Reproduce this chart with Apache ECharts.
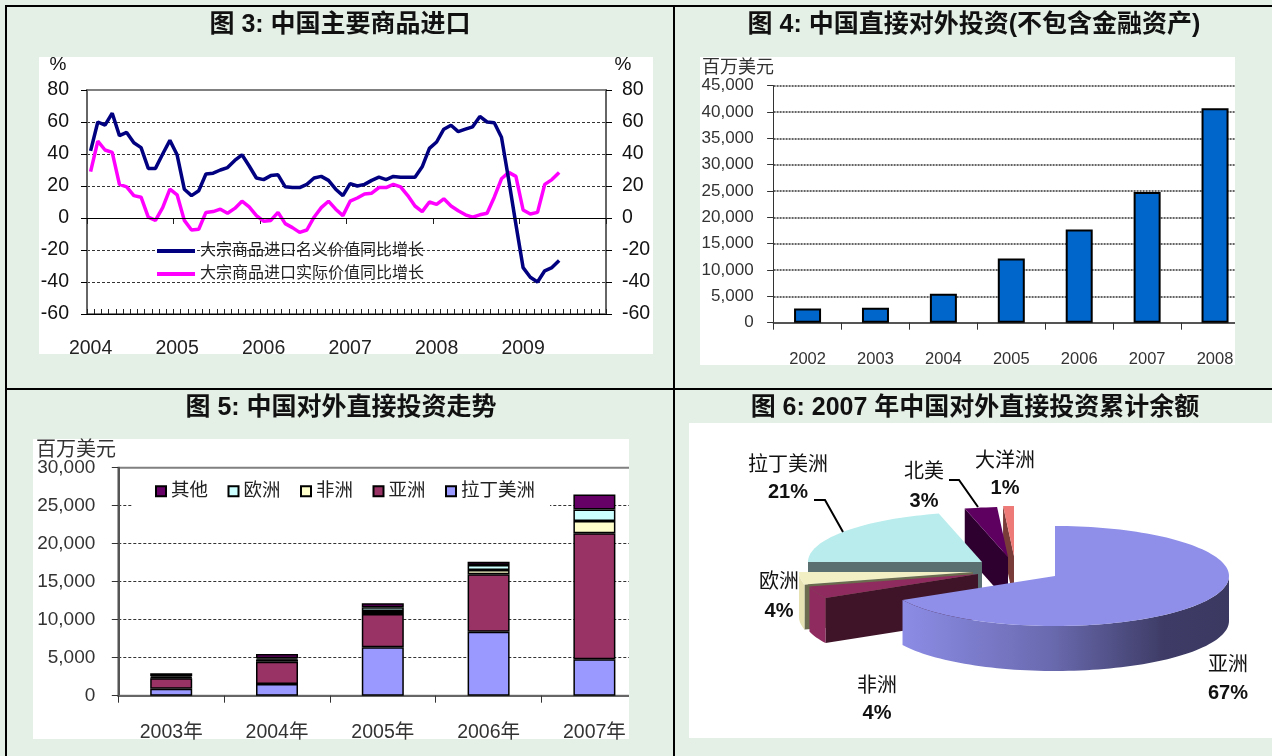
<!DOCTYPE html>
<html>
<head>
<meta charset="utf-8">
<title>中国商品进口与对外直接投资</title>
<script src="https://cdn.jsdelivr.net/npm/echarts@6/dist/echarts.min.js"></script>
<style>
  html, body { margin: 0; padding: 0; background: #e4efe6; }
  #chart { width: 1272px; height: 756px; }
</style>
</head>
<body>
<div id="chart"></div>
<script>
// 图 3 数据：2004-01 起的月度同比
const nominalName = '大宗商品进口名义价值同比增长'
const realName = '大宗商品进口实际价值同比增长'
const nominalGrowth = [
  42, 60, 58, 65.5, 51.5, 53.5, 47, 44, 31, 31, 40, 48.5,
  39.5, 18, 14, 17, 27.5, 28, 30, 31.5, 36, 39.5, 32.5, 25,
  24, 26.5, 27, 19.5, 19, 19, 21, 25, 26, 23.5, 18, 14,
  21.5, 20, 21, 23.5, 25.5, 24, 26, 25.5, 25.5, 25.5, 32, 43.5,
  47.5, 55.5, 58, 54, 55.5, 57, 63.5, 60, 59.5, 50.5, 24, -4,
  -31, -37, -40, -33, -31, -26.5
]
const realGrowth = [
  29, 48, 42.5, 41, 21, 19.5, 14, 13, 0.5, -1.5, 6.5, 18,
  14.5, -1.5, -7.5, -7, 3.5, 4, 5.5, 3, 6, 10.5, 7, 1.5,
  -2, -1.5, 3.5, -3.5, -6, -9, -7.5, 0.5, 6.5, 10.5, 5.5, 1.5,
  10.5, 12.5, 15, 15.5, 19, 19, 21, 19.5, 14, 7.5, 4, 10,
  8.5, 12, 7.5, 4.5, 2, 0.5, 2, 3, 13, 24.5, 28.5, 26,
  5, 2.5, 3.5, 21, 24, 28.5
]
const importYears = ['2004', '2005', '2006', '2007', '2008', '2009']
const months = ['01', '02', '03', '04', '05', '06', '07', '08', '09', '10', '11', '12']
const importMonths = importYears.flatMap(y => months.map(m => y + '-' + m))

// 图 4 数据
const odiYears = ['2002', '2003', '2004', '2005', '2006', '2007', '2008']
const odiValues = [2700, 2850, 5500, 12200, 17700, 24800, 40700]

// 图 5 数据
const regionYears = ['2003年', '2004年', '2005年', '2006年', '2007年']
const latinAmerica = [900, 1535, 6360, 8420, 4780]
const asia = [1400, 2935, 4385, 7545, 16580]
const africa = [100, 300, 400, 565, 1620]
const europe = [150, 150, 500, 660, 1535]
const others = [400, 560, 505, 440, 1975]
const regionLegend = ['其他', '欧洲', '非洲', '亚洲', '拉丁美洲']

// 图 6 数据
const pieNames = ['亚洲', '非洲', '欧洲', '拉丁美洲', '北美', '大洋洲']
const pieValues = [67, 4, 4, 21, 3, 1]

// 样式和版面
const sansFont = '"Liberation Sans", "Noto Sans CJK SC", sans-serif'
const panelGreen = '#e4efe6'
const pieRx = 174
const pieRy = 50
const pieDepth = 45
const pieTips = [[1055, 576], [978, 574], [973, 572], [982, 562], [1008, 557], [1014, 556]]
const pieColors = [
  { top: '#8f8fe9', cut: '#3f3c66' },
  { top: '#8f2b5e', wall: '#8f2b5e', cut: '#3f1428' },
  { top: '#f3efc4', wall: '#e6e2b4', cut: '#6b6b50' },
  { top: '#b9ecec', wall: '#5a7070', cut: '#5a7070' },
  { top: '#5e0060', wall: '#2e0030', cut: '#2e0030' },
  { top: '#ee7a78', wall: '#7a3c38', cut: '#7a3c38' }
]
const pieLabelPos = [[1228, 665, 693], [877, 686, 713], [779, 582, 611], [788, 465, 492], [924, 472, 501], [1005, 461, 488]]
const pieLeaders = [
  [[814, 500], [825, 500], [843, 532]],
  [[949, 480], [959, 480], [978, 507]]
]

const asiaWall = new echarts.graphic.LinearGradient(0, 0, 1, 0, [
  { offset: 0, color: '#8c8ce6' },
  { offset: 0.45, color: '#6a6ab0' },
  { offset: 0.8, color: '#3e3c66' },
  { offset: 1, color: '#3b3962' }
])

const pieTotal = pieValues.reduce((a, b) => a + b, 0)
const pieStarts = pieValues.map((v, i) => pieValues.slice(0, i).reduce((a, b) => a + b, 0) / pieTotal * 360)
const pieEnds = pieValues.map((v, i) => pieStarts[i] + v / pieTotal * 360)

const piePoint = (tip, deg) => {
  const rad = deg * Math.PI / 180
  return [tip[0] + Math.sin(rad) * pieRx, tip[1] - Math.cos(rad) * pieRy]
}

const arcPoints = (tip, from, to) => {
  const pts = []
  const steps = Math.max(2, Math.ceil((to - from) / 2))
  for (let k = 0; k <= steps; k++) pts.push(piePoint(tip, from + (to - from) * k / steps))
  return pts
}

const drop = pts => pts.map(p => [p[0], p[1] + pieDepth])

const renderPieSlice = (params) => {
  // 从后往前画，亚洲在最前
  const i = pieValues.length - 1 - params.dataIndex
  const tip = pieTips[i]
  const start = pieStarts[i]
  const end = pieEnds[i]
  const colors = pieColors[i]
  const children = []

  // 切面：只画朝前的那一面
  if (Math.sin(start * Math.PI / 180) < -0.001) {
    const edge = [tip, piePoint(tip, start)]
    children.push({
      type: 'polygon',
      shape: { points: edge.concat(drop(edge).reverse()) },
      style: { fill: colors.cut }
    })
  }
  // 外壁：只有 90 到 270 度可见
  const wallFrom = Math.max(start, 90)
  const wallTo = Math.min(end, 270)
  if (wallTo > wallFrom) {
    const arc = arcPoints(tip, wallFrom, wallTo)
    children.push({
      type: 'polygon',
      shape: { points: arc.concat(drop(arc).reverse()) },
      style: { fill: i === 0 ? asiaWall : colors.wall }
    })
  }
  children.push({
    type: 'polygon',
    shape: { points: [tip].concat(arcPoints(tip, start, end)) },
    style: { fill: colors.top }
  })

  const pos = pieLabelPos[i]
  children.push({
    type: 'text', z2: 20,
    style: { x: pos[0], y: pos[1], text: pieNames[i], align: 'center', verticalAlign: 'middle', fontSize: 20, fontFamily: sansFont, fill: '#111' }
  })
  children.push({
    type: 'text', z2: 20,
    style: { x: pos[0], y: pos[2], text: pieValues[i] + '%', align: 'center', verticalAlign: 'middle', fontSize: 20, fontWeight: 'bold', fontFamily: sansFont, fill: '#111' }
  })
  return { type: 'group', children }
}

const rect = (x, y, width, height, fill, z) => ({ type: 'rect', shape: { x, y, width, height }, style: { fill }, z, silent: true })
const label = (x, y, text, fontSize, fontWeight, fill) => ({
  type: 'text', z: 50, silent: true,
  style: { x, y, text, fontSize, fontWeight, fill, align: 'center', verticalAlign: 'middle', fontFamily: sansFont }
})
const leader = pts => ({ type: 'polyline', z: 50, silent: true, shape: { points: pts }, style: { stroke: '#000', lineWidth: 2, fill: null } })

const graphics = [
  // 白底
  rect(39, 57, 614, 297, '#fff', -10),
  rect(700, 57, 535, 308, '#fff', -10),
  rect(33, 439, 596, 300, '#fff', -10),
  rect(689, 423, 583, 315, '#fff', -10),
  // 框线
  rect(5, 5, 1267, 2, '#000', 60),
  rect(5, 5, 2, 751, '#000', 60),
  rect(673, 5, 2, 751, '#000', 60),
  rect(5, 388, 1267, 2, '#000', 60),
  // 图 4、图 5 最后一格被裁掉，盖住伸出白底的部分
  rect(1235, 70, 16, 270, panelGreen, 40),
  rect(629, 460, 20, 245, panelGreen, 40),
  // 标题
  label(340, 25, '图 3: 中国主要商品进口', 25, 'bold', '#111'),
  label(974, 25, '图 4: 中国直接对外投资(不包含金融资产)', 25, 'bold', '#111'),
  label(341, 408, '图 5: 中国对外直接投资走势', 25, 'bold', '#111'),
  label(975, 408, '图 6: 2007 年中国对外直接投资累计余额', 25, 'bold', '#111'),
  // 单位
  label(58, 65, '%', 19, 'normal', '#111'),
  label(623, 65, '%', 19, 'normal', '#111'),
  label(738, 68, '百万美元', 18, 'normal', '#333'),
  label(76, 450, '百万美元', 20, 'normal', '#333'),
  leader(pieLeaders[0]),
  leader(pieLeaders[1])
]

const dashedLine = { show: true, showMinLine: false, showMaxLine: false, lineStyle: { color: '#333', type: [3, 2], width: 1 } }
const regionBar = (name, data, color) => ({
  name, type: 'bar', stack: 'region', xAxisIndex: 3, yAxisIndex: 3, data, barWidth: 42,
  itemStyle: { color, borderColor: '#000', borderWidth: 1.5 }
})

const option = {
  animation: false,
  textStyle: { fontFamily: sansFont },
  graphic: graphics,
  legend: [
    {
      data: [nominalName, realName], orient: 'vertical', left: 157, top: 243, padding: 0,
      icon: 'rect', itemWidth: 38, itemHeight: 4, itemGap: 7, selectedMode: false,
      textStyle: { fontSize: 16, color: '#222' }
    },
    {
      data: regionLegend, left: 133, top: 477, padding: [5, 15, 6, 22],
      icon: 'rect', itemWidth: 10, itemHeight: 10, itemGap: 19.5, selectedMode: false, backgroundColor: '#fff',
      textStyle: { fontSize: 18.5, color: '#222' }
    }
  ],
  grid: [
    { left: 87, top: 90, width: 519, height: 224, show: true, borderColor: '#808080', borderWidth: 2, containLabel: false },
    { left: 773.6, top: 85.7, width: 475.4, height: 237, containLabel: false },
    { left: 118.3, top: 467.7, width: 529, height: 228, show: true, borderColor: '#808080', borderWidth: 2, containLabel: false }
  ],
  xAxis: [
    {
      gridIndex: 0, type: 'category', data: importMonths, position: 'bottom',
      axisLine: { onZero: false, lineStyle: { color: '#000', width: 1 } },
      axisTick: { show: true, inside: true, length: 5, interval: 0, lineStyle: { color: '#222' } },
      axisLabel: { interval: 11, margin: 25, fontSize: 19.5, color: '#222', formatter: v => v.slice(0, 4) }
    },
    {
      // 年度长刻度
      gridIndex: 0, type: 'category', data: importMonths, position: 'bottom',
      axisLine: { show: false },
      axisTick: { show: true, length: 6, interval: 11, lineStyle: { color: '#222' } },
      axisLabel: { show: false }
    },
    {
      gridIndex: 1, type: 'category', data: odiYears,
      axisLine: { lineStyle: { color: '#555', width: 2 } },
      axisTick: { show: true, length: 7, lineStyle: { color: '#333' } },
      axisLabel: { margin: 29, fontSize: 16.5, color: '#333' }
    },
    {
      gridIndex: 2, type: 'category', data: regionYears,
      axisLine: { lineStyle: { color: '#666', width: 2 } },
      axisTick: { show: true, length: 7, lineStyle: { color: '#333' } },
      axisLabel: { margin: 27, fontSize: 19.5, color: '#333' }
    }
  ],
  yAxis: [
    {
      gridIndex: 0, type: 'value', position: 'left', min: -60, max: 80, interval: 20,
      axisLine: { show: true, lineStyle: { color: '#666', width: 2 } },
      axisTick: { show: true, length: 6, lineStyle: { color: '#000' } },
      axisLabel: { margin: 18, fontSize: 19.5, color: '#111' },
      splitLine: dashedLine
    },
    {
      gridIndex: 0, type: 'value', position: 'right', min: -60, max: 80, interval: 20,
      axisLine: { show: true, lineStyle: { color: '#666', width: 2 } },
      axisTick: { show: true, length: 6, lineStyle: { color: '#000' } },
      axisLabel: { margin: 16, fontSize: 19.5, color: '#111', align: 'left' },
      splitLine: { show: false }
    },
    {
      gridIndex: 1, type: 'value', min: 0, max: 45000, interval: 5000,
      axisLine: { show: true, lineStyle: { color: '#333', width: 1 } },
      axisTick: { show: true, length: 6.5, lineStyle: { color: '#333' } },
      axisLabel: { margin: 20, fontSize: 17, color: '#333', formatter: v => v.toLocaleString('en-US') },
      splitLine: { show: true, showMinLine: false, lineStyle: { color: '#333', type: [2, 1], width: 1.5 } }
    },
    {
      gridIndex: 2, type: 'value', min: 0, max: 30000, interval: 5000,
      axisLine: { show: true, lineStyle: { color: '#555', width: 2 } },
      axisTick: { show: true, length: 6.5, lineStyle: { color: '#333' } },
      axisLabel: { margin: 23, fontSize: 19, color: '#333', formatter: v => v.toLocaleString('en-US') },
      splitLine: dashedLine
    }
  ],
  series: [
    {
      name: nominalName, type: 'line', xAxisIndex: 0, yAxisIndex: 0, data: nominalGrowth,
      showSymbol: false, symbol: 'none', z: 4,
      lineStyle: { color: '#000080', width: 3.5 }, itemStyle: { color: '#000080' }
    },
    {
      name: realName, type: 'line', xAxisIndex: 0, yAxisIndex: 0, data: realGrowth,
      showSymbol: false, symbol: 'none', z: 3,
      lineStyle: { color: '#ff00ff', width: 3.5 }, itemStyle: { color: '#ff00ff' },
      markLine: {
        symbol: 'none', silent: true, animation: false, label: { show: false },
        lineStyle: { color: '#000', type: 'solid', width: 1 },
        data: [{ yAxis: 0 }]
      }
    },
    {
      name: 'odi', type: 'bar', xAxisIndex: 2, yAxisIndex: 2, data: odiValues, barWidth: 27,
      itemStyle: { color: '#0066cc', borderColor: '#000', borderWidth: 2 }
    },
    regionBar('拉丁美洲', latinAmerica, '#9999ff'),
    regionBar('亚洲', asia, '#993366'),
    regionBar('非洲', africa, '#ffffcc'),
    regionBar('欧洲', europe, '#ccffff'),
    regionBar('其他', others, '#660066'),
    {
      name: 'pie', type: 'custom', coordinateSystem: 'none', silent: true, z: 5,
      data: pieValues.map((v, i) => [i]),
      renderItem: renderPieSlice
    }
  ]
}

const chart = echarts.init(document.getElementById('chart'))
chart.setOption(option)
window.addEventListener('resize', () => chart.resize())
</script>
</body>
</html>
